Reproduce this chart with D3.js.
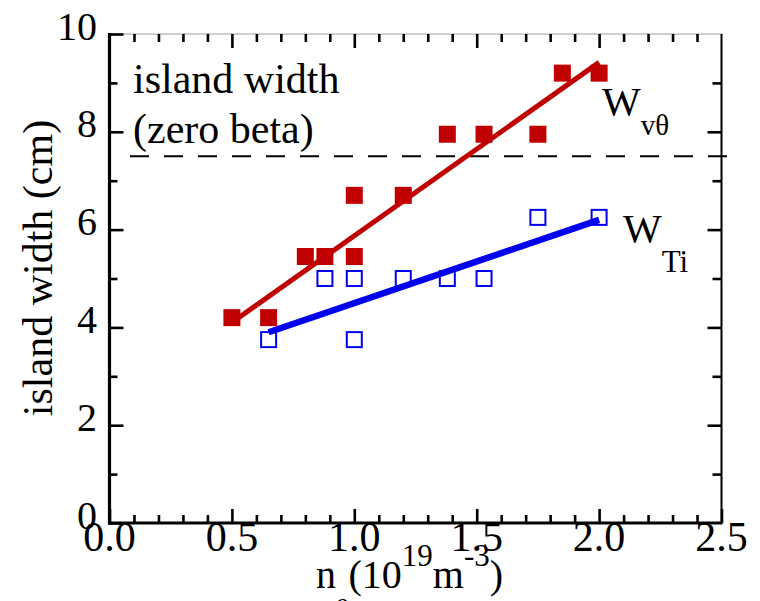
<!DOCTYPE html>
<html>
<head>
<meta charset="utf-8">
<script src="https://cdn.jsdelivr.net/npm/d3@7"></script>
<style>
  html, body { margin: 0; padding: 0; background: #fff; }
  svg { display: block; }
  text { font-family: "Liberation Serif", "Times New Roman", serif; fill: #000; }
</style>
</head>
<body>
<svg id="chart" width="760" height="601"></svg>
<script>
// ---- data ----
const redX = [0.5, 0.65, 0.8, 0.88, 1.0, 1.0, 1.2, 1.38, 1.53, 1.75, 1.85, 2.0];
const redY = [4.2, 4.2, 5.45, 5.45, 5.45, 6.7, 6.7, 7.95, 7.95, 7.95, 9.2, 9.2];
const blueX = [0.65, 0.88, 1.0, 1.0, 1.2, 1.38, 1.53, 1.75, 2.0];
const blueY = [3.75, 5.0, 5.0, 3.75, 5.0, 5.0, 5.0, 6.25, 6.25];
const redFitX = [0.5, 2.0];
const redFitY = [4.1, 9.42];
const blueFitX = [0.65, 2.0];
const blueFitY = [3.9, 6.2];
const zeroBetaWidth = 7.5;
const xTicks = [0.0, 0.5, 1.0, 1.5, 2.0, 2.5];
const xTickLabels = ["0.0", "0.5", "1.0", "1.5", "2.0", "2.5"];
const yTicks = [0, 2, 4, 6, 8, 10];
const yTickLabels = ["0", "2", "4", "6", "8", "10"];
const xMinor = d3.range(0, 2.5001, 0.1).map(v => +v.toFixed(2));
const yMinor = d3.range(0, 10.001, 1);

const RED = "#c00000";
const BLUE = "#0000ee";

const svg = d3.select("#chart");
const x = d3.scaleLinear().domain([0, 2.5]).range([109.5, 721.5]);
const y = d3.scaleLinear().domain([0, 10]).range([523, 34]);

// ---- frame lines ----
svg.append("line").attr("x1", x(0)).attr("x2", x(2.5) + 1).attr("y1", y(10)).attr("y2", y(10))
  .attr("stroke", "#a0a0a0").attr("stroke-width", 1.2);
svg.append("line").attr("x1", x(2.5)).attr("x2", x(2.5)).attr("y1", y(10)).attr("y2", y(0))
  .attr("stroke", "#000").attr("stroke-width", 2);

// ---- ticks via axes ----
function styleAxis(g) {
  g.select(".domain").remove();
  g.selectAll(".tick line").attr("stroke", "#000").attr("stroke-width", 2.6);
  g.selectAll(".tick text").remove();
}
const minorX = xMinor.filter(v => !xTicks.some(t => Math.abs(t - v) < 1e-6));
const minorY = yMinor.filter(v => !yTicks.some(t => Math.abs(t - v) < 1e-6));

svg.append("g").attr("transform", `translate(0,${y(0)})`)
  .call(d3.axisBottom(x).tickValues(xTicks).tickSize(-14).tickFormat("")).call(styleAxis);
svg.append("g").attr("transform", `translate(0,${y(0)})`)
  .call(d3.axisBottom(x).tickValues(minorX).tickSize(-8).tickFormat("")).call(styleAxis);
svg.append("g").attr("transform", `translate(0,${y(10)})`)
  .call(d3.axisTop(x).tickValues(xTicks.slice(1, -1)).tickSize(-14).tickFormat("")).call(styleAxis);
svg.append("g").attr("transform", `translate(0,${y(10)})`)
  .call(d3.axisTop(x).tickValues(minorX).tickSize(-8).tickFormat("")).call(styleAxis);
svg.append("g").attr("transform", `translate(${x(0)},0)`)
  .call(d3.axisLeft(y).tickValues(yTicks).tickSize(-14).tickFormat("")).call(styleAxis);
svg.append("g").attr("transform", `translate(${x(0)},0)`)
  .call(d3.axisLeft(y).tickValues(minorY).tickSize(-8).tickFormat("")).call(styleAxis);
svg.append("g").attr("transform", `translate(${x(2.5)},0)`)
  .call(d3.axisRight(y).tickValues(yTicks.slice(1, -1)).tickSize(-14).tickFormat("")).call(styleAxis);
svg.append("g").attr("transform", `translate(${x(2.5)},0)`)
  .call(d3.axisRight(y).tickValues(minorY).tickSize(-9).tickFormat("")).call(styleAxis);

svg.append("line").attr("x1", x(0)).attr("x2", x(0)).attr("y1", y(10) - 1).attr("y2", y(0) + 1.5)
  .attr("stroke", "#000").attr("stroke-width", 3.2);
svg.append("line").attr("x1", x(0) - 1.5).attr("x2", x(2.5) + 1).attr("y1", y(0)).attr("y2", y(0))
  .attr("stroke", "#000").attr("stroke-width", 3.2);

// ---- tick labels ----
svg.append("g").selectAll("text").data(xTicks).join("text")
  .attr("x", d => x(d)).attr("y", 551)
  .attr("text-anchor", "middle").attr("font-size", 42)
  .text((d, i) => xTickLabels[i]);
svg.append("g").selectAll("text").data(yTicks).join("text")
  .attr("x", 97).attr("y", d => y(d) + 5.5)
  .attr("text-anchor", "end").attr("font-size", 40)
  .text((d, i) => yTickLabels[i]);

// ---- axis titles ----
svg.append("text")
  .attr("transform", `translate(52,268) rotate(-90)`)
  .attr("text-anchor", "middle").attr("font-size", 42)
  .text("island width (cm)");

const xt = svg.append("text").attr("x", 316).attr("y", 588).attr("font-size", 40);
xt.append("tspan").text("n");
xt.append("tspan").attr("font-size", 28).attr("dy", 24).text("e");
xt.append("tspan").attr("dy", -24).text("(10");
xt.append("tspan").attr("font-size", 31).attr("dy", -22).text("19");
xt.append("tspan").attr("dy", 22).text("m");
xt.append("tspan").attr("font-size", 31).attr("dy", -22).text("-3");
xt.append("tspan").attr("dy", 22).text(")");

// ---- annotation ----
svg.append("text").attr("x", 133).attr("y", 93).attr("font-size", 42).text("island width");
svg.append("text").attr("x", 133).attr("y", 143).attr("font-size", 42).text("(zero beta)");

svg.append("line").attr("x1", 130).attr("x2", 727)
  .attr("y1", y(zeroBetaWidth)).attr("y2", y(zeroBetaWidth))
  .attr("stroke", "#000").attr("stroke-width", 2)
  .attr("stroke-dasharray", "19,15");

// ---- fit lines ----
const line = d3.line().x(d => x(d[0])).y(d => y(d[1]));
svg.append("path").datum(d3.zip(redFitX, redFitY)).attr("d", line)
  .attr("fill", "none").attr("stroke", RED).attr("stroke-width", 5);
svg.append("path").datum(d3.zip(blueFitX, blueFitY)).attr("d", line)
  .attr("fill", "none").attr("stroke", BLUE).attr("stroke-width", 6.5);

// ---- markers ----
const S = 17;
svg.append("g").selectAll("rect").data(d3.zip(redX, redY)).join("rect")
  .attr("x", d => x(d[0]) - S / 2).attr("y", d => y(d[1]) - S / 2)
  .attr("width", S).attr("height", S).attr("fill", RED);
const B = 15;
svg.append("g").selectAll("rect").data(d3.zip(blueX, blueY)).join("rect")
  .attr("x", d => x(d[0]) - B / 2).attr("y", d => y(d[1]) - B / 2)
  .attr("width", B).attr("height", B).attr("fill", "none")
  .attr("stroke", BLUE).attr("stroke-width", 2);

// ---- series labels ----
const l1 = svg.append("text").attr("x", 602).attr("y", 115).attr("font-size", 41);
l1.append("tspan").text("W");
l1.append("tspan").attr("font-size", 29).attr("dy", 20).text("vθ");
const l2 = svg.append("text").attr("x", 623).attr("y", 242).attr("font-size", 41);
l2.append("tspan").text("W");
l2.append("tspan").attr("font-size", 31).attr("dy", 30).text("Ti");
</script>
</body>
</html>
